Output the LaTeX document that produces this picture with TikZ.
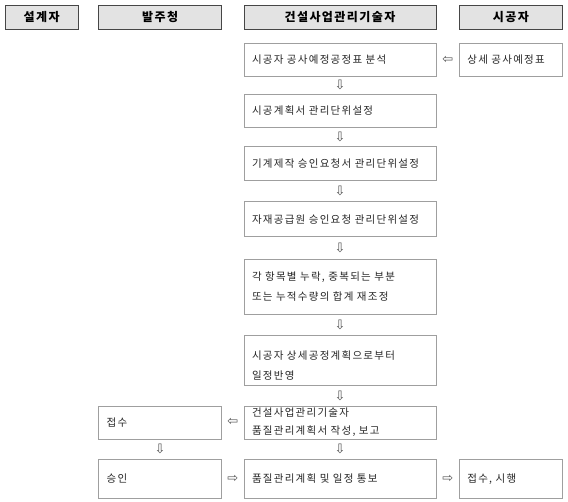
\documentclass[tikz,border=0pt]{standalone}
\usepackage{fontspec}
\setmainfont{Noto Sans CJK KR}[LetterSpace=12, WordSpace=1.3]
\newfontfamily\arrfont{DejaVu Sans}
\usetikzlibrary{positioning}

\begin{document}
\begin{tikzpicture}[
		x=1pt, y=-1pt,
		head/.style={rectangle, draw=gray!55!black, fill=gray!22, inner sep=0pt, minimum height=24pt, font=\fontsize{12}{14}\selectfont\bfseries},
		box/.style={rectangle, draw=gray!75, fill=white, inner xsep=8pt, inner ysep=2pt, align=left, text=black!85, font=\fontsize{10.5}{20}\selectfont},
		stage/.style={box, text width=176pt},
		side/.style={box, text width=87pt},
		owner/.style={box, text width=107pt},
		flowarr/.style={font=\arrfont\fontsize{13}{13}\selectfont, text=gray!65!black, inner sep=0pt}
	]
	\useasboundingbox (0,0) rectangle (568,502);

	% column heads
	\node[head, minimum width=192pt] (hcm) at (340,17) {건설사업관리기술자};
	\node[head, minimum width=103pt, right=23pt of hcm] (hcon) {시공자};
	\node[head, minimum width=123pt, left=22pt of hcm] (hown) {발주청};
	\node[head, minimum width=73pt, left=20pt of hown] (hdes) {설계자};

	% main flow
	\node[stage, minimum height=33pt, below=14pt of hcm] (analyse) {시공자 공사예정공정표 분석};
	\node[stage, minimum height=33pt, below=17pt of analyse] (plan) {시공계획서 관리단위설정};
	\node[stage, minimum height=34pt, below=19pt of plan] (machine) {기계제작 승인요청서 관리단위설정};
	\node[stage, minimum height=35pt, below=21pt of machine] (supply) {자재공급원 승인요청 관리단위설정};
	\node[stage, minimum height=55pt, text depth=20pt, below=22pt of supply] (adjust) {각 항목별 누락, 중복되는 부분\\또는 누적수량의 합계 재조정};
	\node[stage, minimum height=50pt, text depth=10pt, below=21pt of adjust] (reflect) {시공자 상세공정계획으로부터\\일정반영};
	\node[stage, minimum height=33pt, font=\fontsize{10.5}{18}\selectfont, below=20pt of reflect] (report) {건설사업관리기술자\\품질관리계획서 작성, 보고};
	\node[stage, minimum height=39pt, below=20pt of report] (notify) {품질관리계획 및 일정 통보};

	% side columns
	\node[side, minimum height=33pt, right=23pt of analyse] (sched) {상세 공사예정표};
	\node[side, minimum height=39pt, right=23pt of notify] (execute) {접수, 시행};
	\node[owner, minimum height=33pt, left=22pt of report] (receive) {접수};
	\node[owner, minimum height=39pt, left=22pt of notify] (approve) {승인};

	\foreach \i/\j in {analyse/plan, plan/machine, machine/supply, supply/adjust, adjust/reflect, reflect/report, report/notify, receive/approve}
		\path (\i) -- node[flowarr] {⇩} (\j);

	\foreach \i/\j in {sched/analyse, report/receive}
		\path (\i) -- node[flowarr] {⇦} (\j);

	\foreach \i/\j in {approve/notify, notify/execute}
		\path (\i) -- node[flowarr] {⇨} (\j);

\end{tikzpicture}
\end{document}
